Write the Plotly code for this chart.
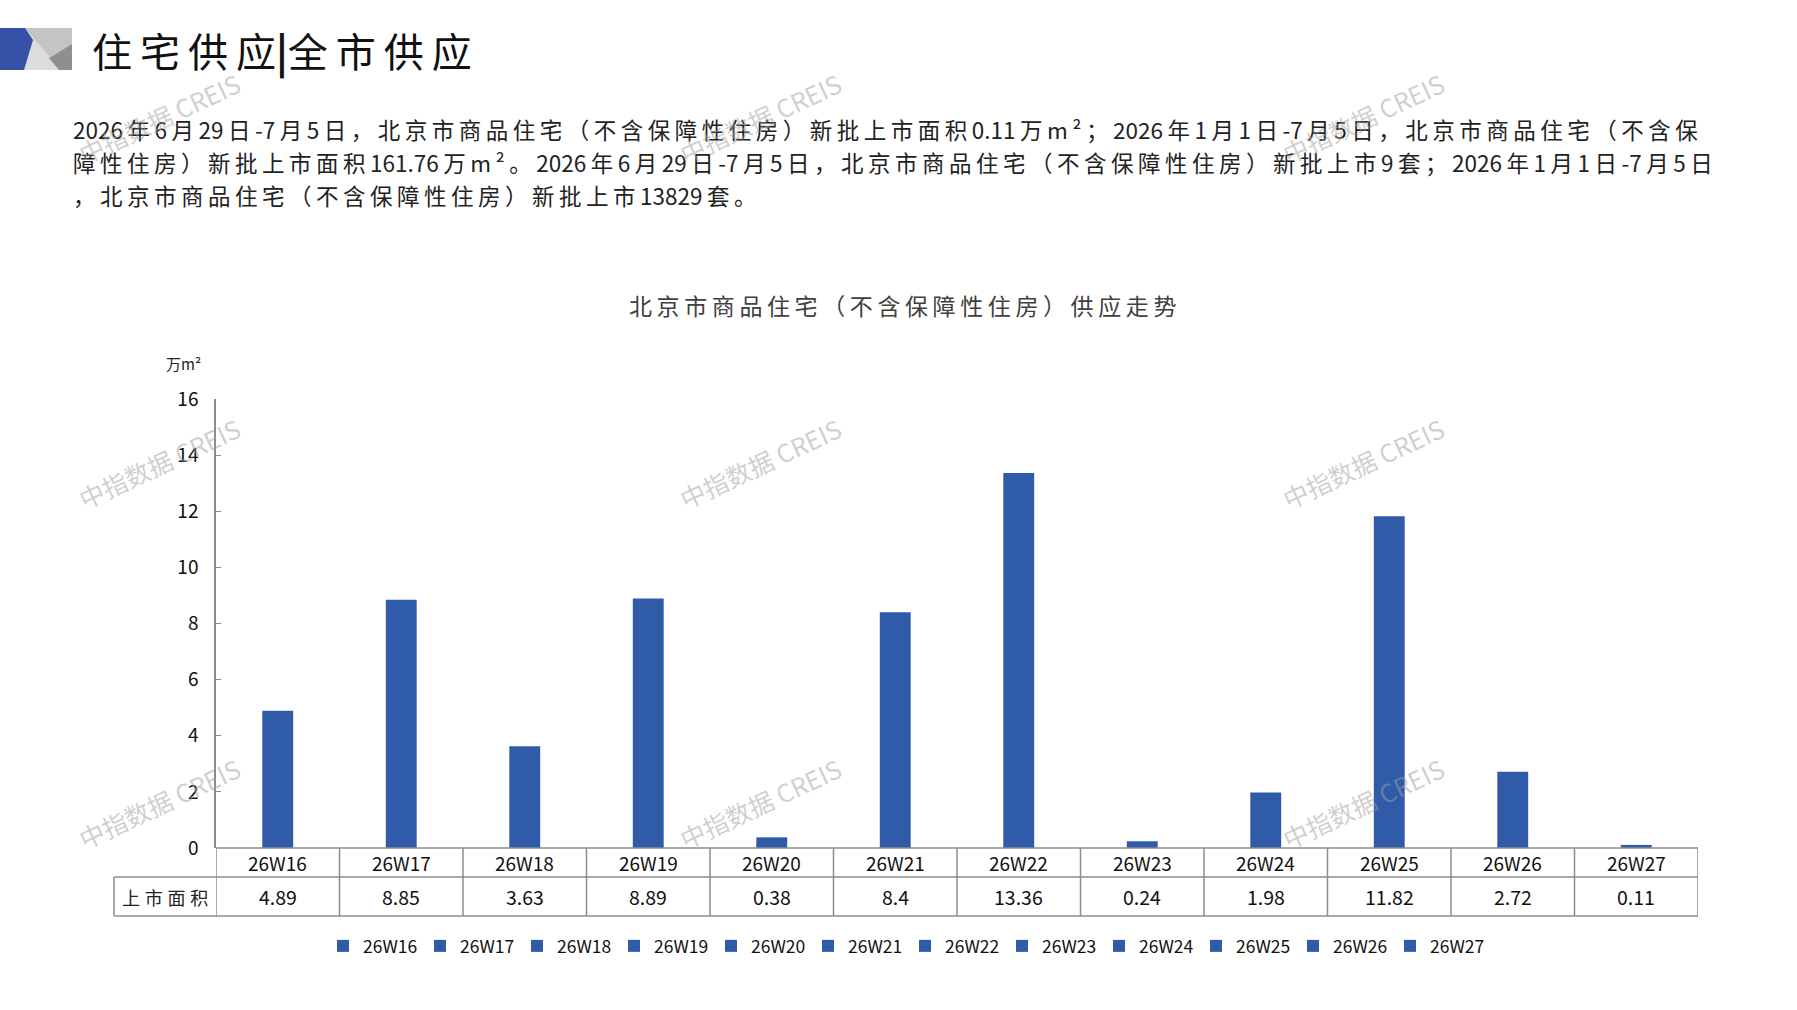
import plotly.graph_objects as go

# --- data (万㎡, weekly new supply, Beijing commodity housing excl. affordable) ---
weeks = ["26W16", "26W17", "26W18", "26W19", "26W20", "26W21",
         "26W22", "26W23", "26W24", "26W25", "26W26", "26W27"]
area = [4.89, 8.85, 3.63, 8.89, 0.38, 8.4, 13.36, 0.24, 1.98, 11.82, 2.72, 0.11]
ytick_vals = [0, 2, 4, 6, 8, 10, 12, 14, 16]
ytd_area = 161.76
week_units = 9
ytd_units = 13829
row_label = "上市面积"

W, H = 1797, 1010
FONT = "Noto Sans CJK SC"
BLUE = "#2f5ba8"
GRID = "#8c8c8c"
SP = "\u2009"


def px(x):
    return x / W


def py(y):
    return 1 - y / H


def spaced(s, sp=SP):
    # widen the spacing around CJK glyphs, keep runs of latin/digits tight
    out = s[0]
    for a, b in zip(s, s[1:]):
        out += b if (a.isascii() and b.isascii()) else sp + b
    return out


fig = go.Figure()

for wk, v in zip(weeks, area):
    fig.add_trace(go.Bar(x=[wk], y=[v], name=wk, width=0.25,
                         marker=dict(color=BLUE, line_width=0)))

# --- header: logo + title ---
logo = [
    ("M %f %f L %f %f L %f %f L %f %f Z" % (px(20), py(28), px(72), py(28), px(72), py(70), px(20), py(70)), "#dcdcdc"),
    ("M %f %f L %f %f L %f %f L %f %f Z" % (px(25), py(28), px(72), py(28), px(72), py(44), px(50), py(57)), "#c4c4c4"),
    ("M %f %f L %f %f L %f %f L %f %f Z" % (px(72), py(44), px(49), py(58), px(59), py(70), px(72), py(70)), "#8f8f8f"),
    ("M %f %f L %f %f L %f %f L %f %f L %f %f Z" % (px(0), py(28), px(25), py(28), px(33), py(40), px(24), py(70), px(0), py(70)), "#3552a8"),
]
shapes = [dict(type="path", path=p, xref="paper", yref="paper", fillcolor=c, line_width=0, layer="above")
          for p, c in logo]

annotations = [
    dict(text=spaced("住宅供应") + "<b>|</b>" + spaced("全市供应"), x=px(90), y=py(50), xanchor="left",
         font=dict(size=40, color="#111111")),
]

lines = [
    f"2026年6月29日-7月5日，北京市商品住宅（不含保障性住房）新批上市面积{area[-1]}万m²；2026年1月1日-7月5日，北京市商品住宅（不含保",
    f"障性住房）新批上市面积{ytd_area}万m²。2026年6月29日-7月5日，北京市商品住宅（不含保障性住房）新批上市{week_units}套；2026年1月1日-7月5日",
    f"，北京市商品住宅（不含保障性住房）新批上市{ytd_units}套。",
]
for i, t in enumerate(lines):
    annotations.append(dict(text=spaced(t), x=px(71), y=py(129 + 33 * i), xanchor="left",
                            font=dict(size=22.5, color="#222222")))

annotations.append(dict(text=spaced("北京市商品住宅（不含保障性住房）供应走势"), x=px(902), y=py(305),
                        font=dict(size=23, color="#404040")))
annotations.append(dict(text="万m²", x=px(183), y=py(363), font=dict(size=15, color="#222222")))

# --- data table under the axis ---
T0, T1, T2 = 848, 877, 916
for i in range(len(weeks) + 1):
    shapes.append(dict(type="line", xref="x", yref="paper", x0=i - 0.5, x1=i - 0.5,
                       y0=py(T0), y1=py(T2), line=dict(color=GRID, width=1.5)))
for yy in (T0, T1, T2):
    shapes.append(dict(type="line", xref="x", yref="paper", x0=-0.5, x1=len(weeks) - 0.5,
                       y0=py(yy), y1=py(yy), line=dict(color=GRID, width=1.5)))
for yy in (T1, T2):
    shapes.append(dict(type="line", xref="paper", yref="paper", x0=px(114), x1=px(216),
                       y0=py(yy), y1=py(yy), line=dict(color=GRID, width=1.5)))
shapes.append(dict(type="line", xref="paper", yref="paper", x0=px(114), x1=px(114),
                   y0=py(T1), y1=py(T2), line=dict(color=GRID, width=1.5)))

annotations.append(dict(text=spaced(row_label, "\u2009\u200a"), x=px(165), y=py((T1 + T2) / 2),
                        font=dict(size=18, color="#222222")))
for wk, v in zip(weeks, area):
    annotations.append(dict(text=wk, x=wk, xref="x", y=py((T0 + T1) / 2),
                            font=dict(size=19, color="#111111")))
    annotations.append(dict(text=f"{v}", x=wk, xref="x", y=py((T1 + T2) / 2),
                            font=dict(size=19.5, color="#111111")))

# --- watermarks ---
for wx in (159, 760, 1363):
    for wy in (118, 463, 803):
        annotations.append(dict(text="中指数据 CREIS", x=px(wx), y=py(wy), textangle=-25,
                                font=dict(size=25, color="rgba(160,160,160,0.5)")))

for a in annotations:
    a.setdefault("xref", "paper")
    a.setdefault("yref", "paper")
    a.setdefault("xanchor", "center")
    a.setdefault("yanchor", "middle")
    a["showarrow"] = False

fig.update_layout(
    width=W, height=H, autosize=False,
    margin=dict(l=0, r=0, t=0, b=0, pad=0, autoexpand=False),
    paper_bgcolor="white", plot_bgcolor="white",
    font=dict(family=FONT, color="#222222"),
    barmode="overlay",
    showlegend=True,
    legend=dict(orientation="h", x=px(905), y=py(946), xanchor="center", yanchor="middle",
                font=dict(size=17.5, color="#111111"), itemwidth=30, traceorder="normal",
                entrywidth=52, entrywidthmode="pixels"),
    xaxis=dict(domain=[px(216), px(1698)], range=[-0.5, len(weeks) - 0.5], type="category",
               showticklabels=False, showgrid=False, showline=False, ticks="", zeroline=False,
               automargin=False),
    yaxis=dict(domain=[py(T0), py(399)], range=[0, 16], tickvals=ytick_vals, showgrid=False,
               showline=True, linecolor=GRID, linewidth=1.5, ticks="inside", ticklen=5,
               tickcolor=GRID, tickfont=dict(size=19, color="#111111"), zeroline=False,
               ticklabelstandoff=12, automargin=False),
    shapes=shapes,
    annotations=annotations,
)

fig.write_html("out.html", config={"displayModeBar": False},
               post_script="document.body.style.margin='0px';")
